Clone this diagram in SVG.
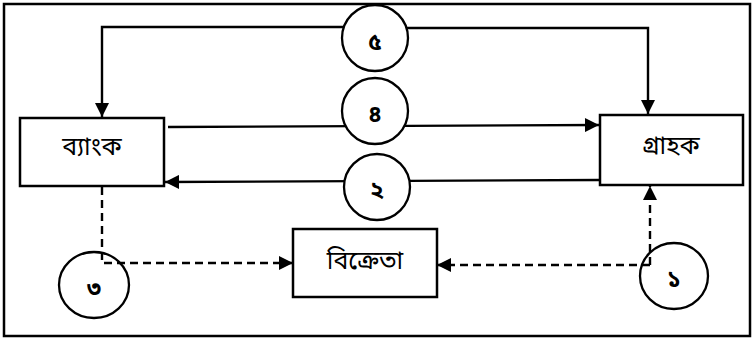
<svg xmlns="http://www.w3.org/2000/svg" width="755" height="341" viewBox="0 0 755 341">
  <defs>
    <marker id="arrowBig" viewBox="0 0 10 10" refX="10" refY="5" markerWidth="15" markerHeight="14" markerUnits="userSpaceOnUse" orient="auto">
      <path d="M0,0 L10,5 L0,10 z" fill="#000"/>
    </marker>
  </defs>
  <style>
    .box { fill: #fff; stroke: #000; stroke-width: 2.5; }
    .circ { fill: #fff; stroke: #000; stroke-width: 2.3; }
    .ring { fill: none; stroke: #000; stroke-width: 2.3; }
    .line { fill: none; stroke: #000; stroke-width: 2.4; }
    .dash { fill: none; stroke: #000; stroke-width: 2.4; stroke-dasharray: 8 5; }
    .label { font-family: "Noto Sans Bengali", "Noto Sans", "Lohit Bengali", "DejaVu Sans", sans-serif; font-size: 25px; text-anchor: middle; dominant-baseline: central; fill: #000; }
    .num { font-family: "Noto Sans Bengali", "Noto Sans", "Lohit Bengali", "DejaVu Sans", sans-serif; font-size: 23px; font-weight: bold; text-anchor: middle; dominant-baseline: central; fill: #000; }
  </style>
  <rect width="755" height="341" fill="#fff"/>
  <!-- outer frame -->
  <rect x="4" y="4" width="746" height="332" fill="none" stroke="#000" stroke-width="2.5"/>

  <!-- numbered rings that sit over the solid lines -->
  <g id="step-5">
    <ellipse class="circ" cx="375" cy="38" rx="33" ry="33"/>
    <text class="num" x="375" y="44">৫</text>
  </g>

  <g id="connectors">
    <!-- 5: top loop, splits to both sides -->
    <path class="line" d="M343,27 L102,27 L102,117" marker-end="url(#arrowBig)"/>
    <path class="line" d="M407,28 L648,28 L648,114" marker-end="url(#arrowBig)"/>
    <!-- 4: bank to customer -->
    <path class="line" d="M168,127 L599,125" marker-end="url(#arrowBig)"/>
    <!-- 2: customer to bank -->
    <path class="line" d="M600,180 L165,182" marker-end="url(#arrowBig)"/>
    <!-- 3: bank to seller (dashed) -->
    <path class="dash" d="M102,187 L102,263 L293,263" marker-end="url(#arrowBig)"/>
    <!-- 1: customer and seller (dashed) -->
    <path class="dash" d="M650,265 L437,265" marker-end="url(#arrowBig)"/>
    <path class="dash" d="M650,265 L650,186" marker-end="url(#arrowBig)"/>
  </g>

  <g id="node-bank">
    <rect class="box" x="20" y="118" width="144" height="68"/>
    <text class="label" x="92" y="148">ব্যাংক</text>
  </g>
  <g id="node-customer">
    <rect class="box" x="600" y="115" width="143" height="70"/>
    <text class="label" x="671" y="147">গ্রাহক</text>
  </g>
  <g id="node-seller">
    <rect class="box" x="293" y="229" width="144" height="68"/>
    <text class="label" x="365" y="262">বিক্রেতা</text>
  </g>

  <g id="step-4">
    <ellipse class="circ" cx="375" cy="111" rx="33" ry="33"/>
    <text class="num" x="375" y="116">৪</text>
  </g>
  <g id="step-2">
    <ellipse class="circ" cx="377" cy="187" rx="33" ry="33"/>
    <text class="num" x="377" y="192">২</text>
  </g>
  <g id="step-3">
    <ellipse class="ring" cx="94" cy="285" rx="35" ry="33"/>
    <text class="num" x="94" y="290">৩</text>
  </g>
  <g id="step-1">
    <ellipse class="ring" cx="674" cy="276" rx="34" ry="33"/>
    <text class="num" x="674" y="281">১</text>
  </g>
</svg>
